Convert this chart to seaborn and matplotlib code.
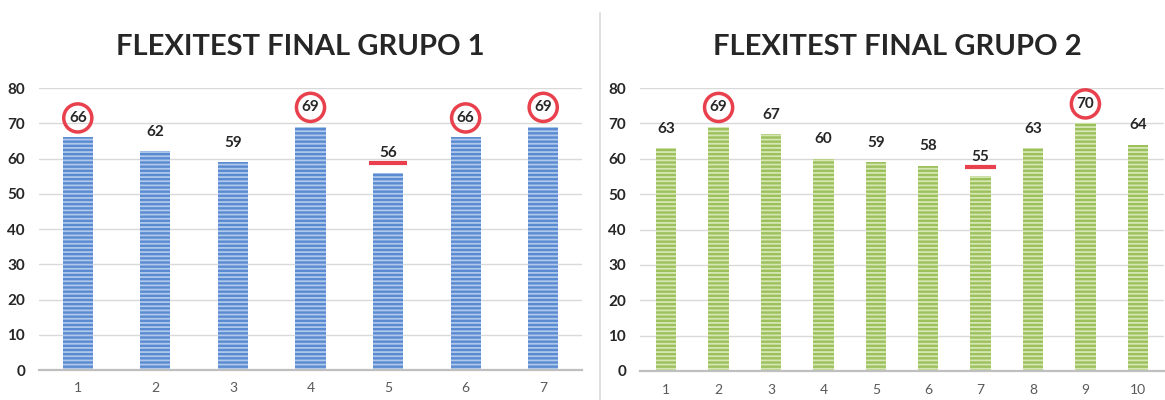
import numpy as np
import pandas as pd
import seaborn as sns
import matplotlib.pyplot as plt
from matplotlib.lines import Line2D

# ---------------------------------------------------------------
# dados
# ---------------------------------------------------------------
grupo1_sujeitos = ["1", "2", "3", "4", "5", "6", "7"]
grupo1_valores = [66, 62, 59, 69, 56, 66, 69]
grupo1_circulos = [0, 3, 5, 6]      # rótulos destacados com círculo
grupo1_sublinhado = [4]             # rótulo com traço vermelho

grupo2_sujeitos = ["1", "2", "3", "4", "5", "6", "7", "8", "9", "10"]
grupo2_valores = [63, 69, 67, 60, 59, 58, 55, 63, 70, 64]
grupo2_circulos = [1, 8]
grupo2_sublinhado = [6]

titulos = ["FLEXITEST FINAL GRUPO 1", "FLEXITEST FINAL GRUPO 2"]

VERMELHO = "#E8404C"


def desenhar_painel(ax, sujeitos, valores, circulos, sublinhado,
                    cor_base, cor_listra, meia_largura, com_ticks):
    df = pd.DataFrame({"sujeito": sujeitos, "valor": valores})
    sns.barplot(data=df, x="sujeito", y="valor", ax=ax, color=cor_base,
                width=0.39, saturation=1, linewidth=0, edgecolor=cor_listra)
    for p in ax.patches:
        p.set_hatch("----")
        p.set_edgecolor(cor_listra)
        p.set_linewidth(0)

    ax.set_ylim(0, 80)
    ax.set_xlim(-0.5, len(sujeitos) - 0.5)
    ax.set_yticks(range(0, 81, 10))
    ax.yaxis.grid(True, color="#D9D9D9", linewidth=1.0)
    ax.set_axisbelow(True)
    ax.set_xlabel("")
    ax.set_ylabel("")
    for lado in ["top", "right", "left"]:
        ax.spines[lado].set_visible(False)
    ax.spines["bottom"].set_color("#BFBFBF")
    ax.spines["bottom"].set_linewidth(1.6)

    ax.tick_params(axis="y", length=0, pad=10, labelsize=11)
    for t in ax.get_yticklabels():
        t.set_fontweight("bold")
    ax.tick_params(axis="x", which="major", length=0, pad=9,
                   labelsize=10, labelcolor="#595959")
    if com_ticks:
        ax.set_xticks(np.arange(-0.5, len(sujeitos), 1.0), minor=True)
        ax.tick_params(axis="x", which="minor", length=5, width=1.4,
                       color="#BFBFBF", direction="out")

    for i, v in enumerate(valores):
        ax.annotate(str(v), (i, v), xytext=(0, 14), textcoords="offset points",
                    ha="center", va="center", fontsize=11, fontweight="bold")
        if i in circulos:
            ax.scatter([i], [v + 14 * 100 / 72 / 3.53], s=410, marker="o",
                       facecolors="none", edgecolors=VERMELHO,
                       linewidths=2.5, zorder=5, clip_on=False)
        if i in sublinhado:
            ax.plot([i - meia_largura, i + meia_largura], [v + 2.7, v + 2.7],
                    color=VERMELHO, linewidth=3, solid_capstyle="butt", zorder=5)


sns.set_style("white")
plt.rcParams["font.family"] = ["Lato", "DejaVu Sans"]
plt.rcParams["hatch.linewidth"] = 1.3

fig = plt.figure(figsize=(11.65, 4.0), dpi=100)
ax1 = fig.add_axes([39 / 1165, 30 / 400, 543 / 1165, 282 / 400])
ax2 = fig.add_axes([640 / 1165, 29 / 400, 524 / 1165, 283 / 400])

desenhar_painel(ax1, grupo1_sujeitos, grupo1_valores, grupo1_circulos,
                grupo1_sublinhado, "#5A8AD0", "#AFC8EC", 0.25, True)
desenhar_painel(ax2, grupo2_sujeitos, grupo2_valores, grupo2_circulos,
                grupo2_sublinhado, "#9CC05C", "#D6E7B4", 0.3, False)

fig.text(300 / 1165, 1 - 47 / 400, titulos[0], ha="center", va="center",
         fontsize=21, fontweight="bold")
fig.text(897 / 1165, 1 - 47 / 400, titulos[1], ha="center", va="center",
         fontsize=21, fontweight="bold")

# linha separadora entre os dois gráficos
fig.add_artist(Line2D([600 / 1165, 600 / 1165], [0, 1 - 13 / 400],
                      color="#D9D9D9", linewidth=1.2))

fig.savefig("out.png", dpi=100)
